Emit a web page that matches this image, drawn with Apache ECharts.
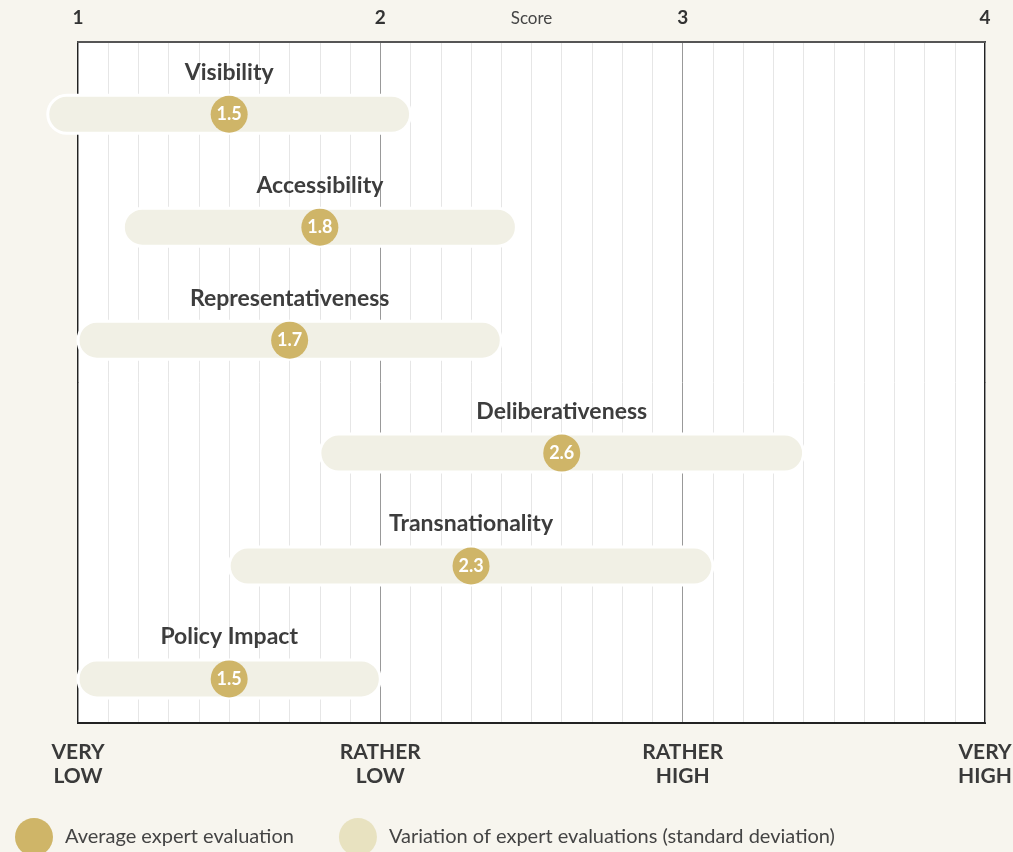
<!DOCTYPE html>
<html>
<head>
<meta charset="utf-8">
<script src="https://cdn.jsdelivr.net/npm/echarts@6/dist/echarts.min.js"></script>
<style>
  html, body { margin: 0; padding: 0; background: #f7f5ee; }
  #chart { width: 1013px; height: 852px; }
</style>
</head>
<body>
<div id="chart"></div>
<script>
// data
var categories = ["Visibility", "Accessibility", "Representativeness", "Deliberativeness", "Transnationality", "Policy Impact"];
var means = [1.5, 1.8, 1.7, 2.6, 2.3, 1.5];
var sds = [0.6, 0.65, 0.7, 0.8, 0.8, 0.5];
var topTicks = ["1", "2", "3", "4"];
var bottomTicks = ["VERY\nLOW", "RATHER\nLOW", "RATHER\nHIGH", "VERY\nHIGH"];

var gold = "#cfb568";
var beige = "#f1f0e5";

var rangeData = categories.map(function (c, i) { return [means[i], sds[i], i]; });
var meanData = categories.map(function (c, i) { return [means[i], i]; });

var chart = echarts.init(document.getElementById("chart"));
chart.setOption({
  backgroundColor: "#f7f5ee",
  textStyle: { fontFamily: "Lato, 'Open Sans', sans-serif" },
  grid: {
    left: 78, right: 28, top: 42, bottom: 129,
    outerBoundsMode: "none",
    containLabel: false,
    show: true, backgroundColor: "#fff", borderColor: "#222", borderWidth: 2
  },
  legend: {
    left: 10, bottom: -9,
    itemWidth: 38, itemHeight: 38, itemGap: 45,
    icon: "circle",
    textStyle: { fontSize: 20, color: "#444", padding: [0, 0, 0, 7] },
    data: [
      { name: "Average expert evaluation", itemStyle: { color: gold } },
      { name: "Variation of expert evaluations (standard deviation)", itemStyle: { color: "#e8e2c0" } }
    ],
    selectedMode: false
  },
  xAxis: [
    {
      type: "value", position: "top", min: 1, max: 4, interval: 1,
      name: "Score", nameLocation: "middle", nameGap: 23, nameMoveOverlap: false,
      nameTextStyle: { fontSize: 17, color: "#444", verticalAlign: "middle" },
      axisLine: { show: true, onZero: false, lineStyle: { color: "#555", width: 2 } },
      axisTick: { show: false },
      axisLabel: {
        margin: 15, fontSize: 19, fontWeight: "bold", color: "#333",
        formatter: function (v) { return topTicks[Math.round(v) - 1]; }
      },
      splitLine: { show: true, lineStyle: { color: "#999", width: 1 } },
      minorTick: { show: false, splitNumber: 10 },
      minorSplitLine: { show: true, lineStyle: { color: "#e6e6e6", width: 1 } }
    },
    {
      type: "value", position: "bottom", min: 1, max: 4, interval: 1,
      axisLine: { show: true, onZero: false, lineStyle: { color: "#222", width: 2 } },
      axisTick: { show: false },
      splitLine: { show: false },
      axisLabel: {
        margin: 17, fontSize: 21, fontWeight: "bold", color: "#3a3a3a", lineHeight: 24,
        formatter: function (v) { return bottomTicks[Math.round(v) - 1]; }
      }
    }
  ],
  yAxis: {
    type: "value", inverse: true, min: -0.64, max: 5.39, show: false
  },
  series: [
    {
      name: "Variation of expert evaluations (standard deviation)",
      type: "custom",
      clip: false,
      data: rangeData,
      renderItem: function (params, api) {
        var m = api.value(0), s = api.value(1), y = api.value(2);
        var a = api.coord([m - s, y]);
        var b = api.coord([m + s, y]);
        var c = api.coord([m, y]);
        var h = 38;
        return {
          type: "group",
          children: [
            {
              type: "rect",
              shape: { x: a[0], y: a[1] - h / 2, width: b[0] - a[0], height: h, r: h / 2 },
              style: { fill: beige, stroke: "#fff", lineWidth: 3 }
            },
            {
              type: "text",
              x: c[0], y: c[1] - 42,
              style: {
                text: categories[params.dataIndex],
                fill: "#3d3d3d", font: "bold 23px Lato, sans-serif",
                align: "center", verticalAlign: "middle"
              }
            }
          ]
        };
      },
      z: 3
    },
    {
      name: "Average expert evaluation",
      type: "scatter",
      data: meanData,
      symbolSize: 37,
      itemStyle: { color: gold, opacity: 1 },
      label: {
        show: true, position: "inside", color: "#fff", fontSize: 18, fontWeight: "bold",
        formatter: function (p) { return p.value[0].toFixed(1); }
      },
      z: 4
    }
  ]
});
</script>
</body>
</html>
